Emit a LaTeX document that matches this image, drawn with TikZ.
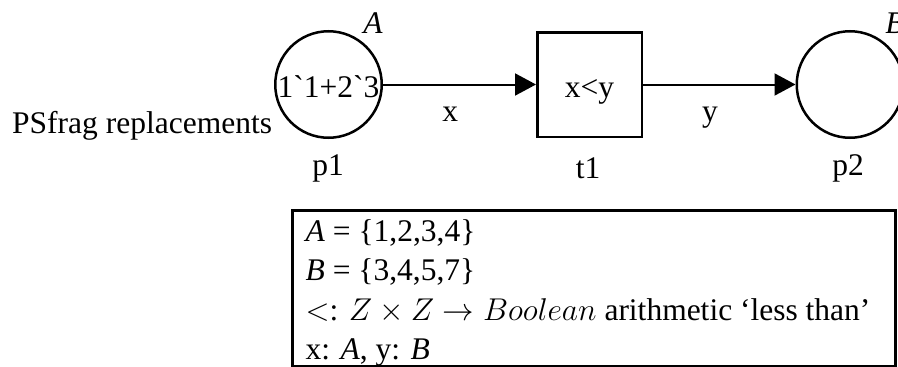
\documentclass[tikz,border=0pt]{standalone}
\usepackage{fix-cm}
\usepackage{fontspec}
\setmainfont{Liberation Serif}
\usetikzlibrary{arrows.meta}

\begin{document}
\begin{tikzpicture}[x=1pt, y=-1pt, >={Triangle[length=21pt,width=22pt]},
  font=\fontsize{31.5}{37}\selectfont,
  place/.style={draw, circle, line width=2.5pt, minimum size=106.5pt, inner sep=0pt,
    text height=26pt, text depth=0pt},
  trans/.style={draw, rectangle, line width=2.5pt, minimum size=104.5pt, inner sep=0pt,
    text height=26pt, text depth=0pt},
  arc/.style={->, line width=2pt},
  arclabel/.style={below=22pt, inner sep=0pt}]
  \useasboundingbox (0,0) rectangle (898,367);
  % Net: places and transition
  \node[place] (p1) at (328.5,84.5) {1\textasciigrave 1+2\textasciigrave 3};
  \node[trans] (t1) at (589.5,84.5) {x<y};
  \node[place] (p2) at (850,84.5) {};
  % Colour sets and names
  \node (setA) at (373,23) {\textit{A}};
  \node (setB) at (895,23) {\textit{B}};
  \node (nameP1) at (328,168) {p1};
  \node (nameT1) at (588,168) {t1};
  \node (nameP2) at (848,168) {p2};
  \node[anchor=base west, inner sep=0pt] (psfrag) at (12,133) {PSfrag replacements};
  % Arcs
  \draw[arc] (p1) -- node[arclabel, pos=0.44] (inscr) {x} (t1);
  \draw[arc] (t1) -- node[arclabel, pos=0.44] (outscr) {y} (p2);
  % Declarations
  \node[draw, line width=3pt, minimum width=603pt, minimum height=156pt] (decls) at (593.5,288) {};
  \node[anchor=north west, align=left, inner sep=0pt, font=\fontsize{31.5}{39.3}\selectfont]
    (decltext) at ([xshift=15pt,yshift=-11pt]decls.north west)
    {\textit{A} = \{1,2,3,4\}\\
     \textit{B} = \{3,4,5,7\}\\
     $<$: $Z\times Z\rightarrow Boolean$ arithmetic `less than'\\
     x: \textit{A}, y: \textit{B}};
\end{tikzpicture}
\end{document}
